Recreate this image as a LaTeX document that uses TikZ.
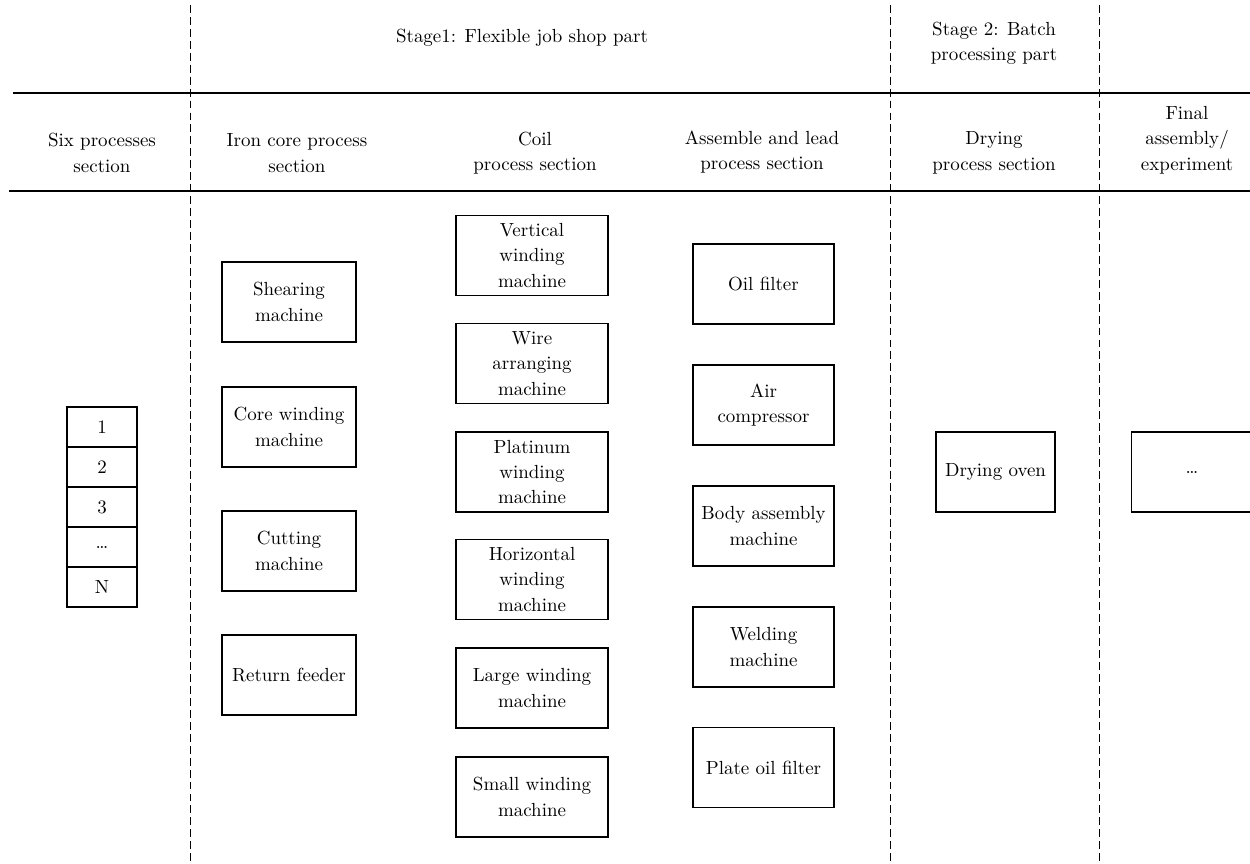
\documentclass[tikz,border=0pt]{standalone}
\usepackage{tikz}

\begin{document}
\begin{tikzpicture}[x=0.02cm, y=-0.02cm,
            font=\fontsize{10.8}{14.5}\selectfont,
            machine/.style={draw, line width=0.6pt, minimum height=1.6cm, align=center, inner sep=1pt},
            cell/.style={draw, line width=0.6pt, minimum width=1.4cm, minimum height=0.8cm, inner sep=0pt},
            head/.style={align=center},
            sepline/.style={line width=0.55pt, dash pattern=on 4.5pt off 2.3pt},
            rowline/.style={line width=0.7pt}]
            \useasboundingbox (0,0) rectangle (1250,863);

            % horizontal lines of the table head
            \draw[rowline] (13,93)--(1250,93);
            \draw[rowline] (9,191)--(1250,191);

            % dashed column borders
            \draw[sepline] (190,5)--(190,863);
            \draw[sepline] (890,5)--(890,863);
            \draw[sepline] (1099,5)--(1099,863);

            % stage titles
            \node[head] (stage1) at (522,38) {Stage1: Flexible job shop part};
            \node[head] (stage2) at (994,43) {Stage 2: Batch\\processing part};

            % section titles
            \node[head] (hsix) at (102,153) {Six processes\\section};
            \node[head] (hiron) at (297,153) {Iron core process\\section};
            \node[head] (hcoil) at (535,153) {Coil\\process section};
            \node[head] (hlead) at (762,152) {Assemble and lead\\process section};
            \node[head] (hdry) at (994,153) {Drying\\process section};
            \node[head] (hfinal) at (1187,140) {Final\\assembly/\\experiment};

            % six processes stack
            \foreach \lab [count=\i] in {1,2,3,\dots,N}
                \node[cell] (cell\i) at (102,{387+40*\i}) {\lab};

            % iron core process section
            \node[machine, minimum width=2.68cm] (shear) at (289,302) {Shearing\\machine};
            \node[machine, minimum width=2.68cm] (corewind) at (289,427) {Core winding\\machine};
            \node[machine, minimum width=2.68cm] (cut) at (289,551) {Cutting\\machine};
            \node[machine, minimum width=2.68cm] (feeder) at (289,675) {Return feeder};

            % coil process section
            \node[machine, minimum width=3.04cm] (vwind) at (532,255.5) {Vertical\\winding\\machine};
            \node[machine, minimum width=3.04cm] (wire) at (532,363.5) {Wire\\arranging\\machine};
            \node[machine, minimum width=3.04cm] (pwind) at (532,472) {Platinum\\winding\\machine};
            \node[machine, minimum width=3.04cm] (hwind) at (532,579.5) {Horizontal\\winding\\machine};
            \node[machine, minimum width=3.04cm] (lwind) at (532,688) {Large winding\\machine};
            \node[machine, minimum width=3.04cm] (swind) at (532,797) {Small winding\\machine};

            % assemble and lead process section
            \node[machine, minimum width=2.82cm] (oil) at (763.5,284) {Oil filter};
            \node[machine, minimum width=2.82cm] (air) at (763.5,405) {Air\\compressor};
            \node[machine, minimum width=2.82cm] (body) at (763.5,526) {Body assembly\\machine};
            \node[machine, minimum width=2.82cm] (weld) at (763.5,647) {Welding\\machine};
            \node[machine, minimum width=2.82cm] (plate) at (763.5,767.5) {Plate oil filter};

            % drying and final assembly
            \node[machine, minimum width=2.38cm] (oven) at (995.5,472) {Drying oven};
            \node[machine, minimum width=2.44cm] (final) at (1192,472) {\dots};
        \end{tikzpicture}
\end{document}
